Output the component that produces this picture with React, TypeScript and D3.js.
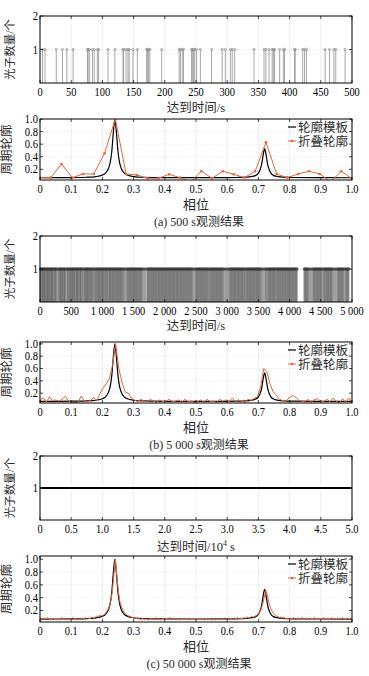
import * as d3 from "d3";

// photon arrival times (s), 500 s observation
const arrivals500 = [
  4, 8, 26, 36, 43, 53, 76, 77, 79, 84, 87, 92, 94, 109, 120, 133, 134, 138, 141, 143,
  149, 156, 171, 172, 174, 176, 195, 223, 225, 228, 230, 243, 244, 246, 248, 251, 257,
  275, 292, 297, 305, 308, 312, 343, 359, 362, 367, 372, 374, 376, 384, 390, 392, 408,
  409, 421, 424, 427, 457, 464, 471, 474, 489,
];

// photon arrival times (s), 5 000 s observation
const arrivals5000 = [
  5, 18, 31, 40, 52, 66, 71, 85, 97, 110, 118, 131, 140, 156, 163, 177, 189, 195, 208, 221,
  236, 244, 258, 272, 290, 305, 318, 327, 339, 352, 361, 374, 388, 396, 409, 430, 441, 455,
  468, 480, 491, 503, 517, 526, 538, 552, 561, 575, 589, 598, 610, 622, 637, 648, 657, 671,
  684, 700, 716, 727, 739, 752, 760, 774, 786, 797, 811, 823, 835, 848, 862, 878, 890, 905,
  917, 930, 941, 953, 966, 978, 990, 1003, 1015, 1027, 1040, 1052, 1066, 1078, 1091, 1105,
  1117, 1128, 1141, 1153, 1165, 1178, 1190, 1204, 1216, 1228, 1241, 1254, 1266, 1279, 1291,
  1303, 1318, 1330, 1345, 1362, 1380, 1398, 1409, 1421, 1434, 1447, 1459, 1471, 1484, 1496,
  1509, 1521, 1533, 1546, 1558, 1571, 1583, 1596, 1609, 1621, 1634, 1650, 1670, 1690, 1715,
  1727, 1740, 1752, 1765, 1777, 1790, 1802, 1815, 1827, 1839, 1852, 1864, 1877, 1889, 1902,
  1914, 1927, 1939, 1952, 1964, 1977, 1989, 2002, 2014, 2027, 2039, 2052, 2064, 2077, 2089,
  2102, 2114, 2127, 2139, 2152, 2164, 2177, 2190, 2202, 2215, 2227, 2240, 2252, 2265, 2277,
  2290, 2302, 2315, 2328, 2340, 2353, 2365, 2378, 2390, 2403, 2415, 2428, 2442, 2460, 2480,
  2498, 2511, 2523, 2536, 2548, 2561, 2573, 2586, 2598, 2611, 2623, 2636, 2648, 2661, 2673,
  2686, 2700, 2715, 2730, 2742, 2755, 2767, 2780, 2792, 2805, 2817, 2830, 2842, 2855, 2867,
  2880, 2892, 2905, 2917, 2930, 2945, 2965, 2985, 3005, 3025, 3040, 3055, 3068, 3080, 3093,
  3105, 3118, 3130, 3143, 3155, 3168, 3180, 3193, 3205, 3218, 3230, 3243, 3255, 3268, 3280,
  3295, 3310, 3322, 3335, 3347, 3360, 3372, 3385, 3397, 3410, 3422, 3435, 3447, 3460, 3472,
  3485, 3497, 3510, 3522, 3535, 3550, 3570, 3590, 3610, 3625, 3640, 3655, 3668, 3680, 3693,
  3705, 3718, 3730, 3743, 3755, 3768, 3780, 3795, 3808, 3820, 3833, 3845, 3858, 3870, 3883,
  3895, 3908, 3920, 3933, 3945, 3958, 3970, 3983, 3995, 4008, 4020, 4033, 4045, 4058, 4070,
  4083, 4095, 4108, 4120, 4232, 4245, 4257, 4270, 4282, 4295, 4310, 4330, 4350, 4370, 4385,
  4397, 4410, 4422, 4435, 4447, 4460, 4472, 4485, 4497, 4510, 4525, 4545, 4557, 4570, 4582,
  4595, 4607, 4620, 4632, 4645, 4657, 4670, 4682, 4700, 4720, 4740, 4760, 4775, 4787, 4800,
  4812, 4825, 4837, 4850, 4862, 4880, 4900, 4912, 4925, 4937, 4950,
];

// 50 000 s observation: first and last arrival (10^4 s), too dense to resolve
const span50000 = [0, 5.0];

// pulse profile template
const templatePhase = [
  0, 0.06, 0.1, 0.15, 0.18, 0.2, 0.21, 0.22, 0.225, 0.23, 0.235, 0.24, 0.245, 0.25, 0.255,
  0.26, 0.27, 0.28, 0.3, 0.33, 0.4, 0.5, 0.6, 0.63, 0.66, 0.68, 0.69, 0.7, 0.705, 0.71,
  0.715, 0.72, 0.725, 0.73, 0.735, 0.74, 0.75, 0.76, 0.78, 0.81, 0.9, 1.0,
];
const templateValue = [
  0.066, 0.067, 0.069, 0.074, 0.085, 0.11, 0.14, 0.22, 0.31, 0.48, 0.78, 1.0, 0.78, 0.48,
  0.31, 0.22, 0.14, 0.11, 0.085, 0.074, 0.068, 0.067, 0.068, 0.07, 0.075, 0.087, 0.1, 0.14,
  0.19, 0.27, 0.42, 0.53, 0.42, 0.27, 0.19, 0.14, 0.1, 0.087, 0.075, 0.07, 0.067, 0.066,
];

// folded profiles (evenly spaced bins over phase 0..1)
const folded500 = [
  0.067, 0.067, 0.285, 0.067, 0.126, 0.126, 0.455, 1.0, 0.126, 0.11, 0.057, 0.057, 0.12,
  0.067, 0.0, 0.17, 0.057, 0.17, 0.12, 0.067, 0.17, 0.63, 0.126, 0.067, 0.126, 0.17, 0.126,
  0.0, 0.17, 0.05,
];
const folded5000 = [
  0.07, 0.13, 0.05, 0.14, 0.08, 0.09, 0.07, 0.1, 0.15, 0.08,
  0.04, 0.05, 0.04, 0.15, 0.08, 0.06, 0.08, 0.13, 0.07, 0.19,
  0.28, 0.35, 0.43, 0.65, 1.0, 0.6, 0.38, 0.22, 0.2, 0.12,
  0.09, 0.06, 0.1, 0.07, 0.06, 0.1, 0.07, 0.05, 0.09, 0.06,
  0.07, 0.1, 0.06, 0.07, 0.09, 0.05, 0.1, 0.06, 0.07, 0.05,
  0.06, 0.09, 0.05, 0.1, 0.06, 0.07, 0.05, 0.1, 0.07, 0.09,
  0.06, 0.12, 0.06, 0.09, 0.07, 0.05, 0.1, 0.08, 0.12, 0.14,
  0.3, 0.6, 0.55, 0.35, 0.22, 0.17, 0.1, 0.08, 0.07, 0.12,
  0.16, 0.14, 0.09, 0.07, 0.06, 0.1, 0.05, 0.09, 0.11, 0.07,
  0.06, 0.1, 0.06, 0.12, 0.07, 0.04, 0.11, 0.05, 0.12, 0.06,
];
const folded50000 = [
  0.07, 0.05, 0.08, 0.06, 0.07, 0.09, 0.06, 0.05, 0.08, 0.07,
  0.06, 0.08, 0.05, 0.07, 0.09, 0.06, 0.07, 0.05, 0.08, 0.06,
  0.07, 0.09, 0.06, 0.08, 0.05, 0.07, 0.06, 0.08, 0.07, 0.09,
  0.06, 0.08, 0.07, 0.1, 0.08, 0.09, 0.11, 0.1, 0.13, 0.12,
  0.12, 0.14, 0.16, 0.2, 0.25, 0.33, 0.47, 0.72, 1.0, 0.74,
  0.49, 0.33, 0.26, 0.2, 0.16, 0.14, 0.12, 0.11, 0.1, 0.09,
  0.09, 0.08, 0.07, 0.08, 0.06, 0.07, 0.08, 0.06, 0.07, 0.05,
  0.07, 0.08, 0.06, 0.07, 0.09, 0.06, 0.07, 0.05, 0.08, 0.07,
  0.06, 0.08, 0.07, 0.09, 0.06, 0.08, 0.07, 0.06, 0.08, 0.05,
  0.07, 0.06, 0.08, 0.06, 0.07, 0.05, 0.06, 0.08, 0.07, 0.06,
  0.05, 0.07, 0.06, 0.08, 0.06, 0.05, 0.07, 0.06, 0.07, 0.05,
  0.06, 0.07, 0.05, 0.08, 0.06, 0.07, 0.06, 0.08, 0.05, 0.07,
  0.06, 0.08, 0.07, 0.06, 0.08, 0.07, 0.09, 0.06, 0.08, 0.07,
  0.09, 0.08, 0.1, 0.08, 0.09, 0.11, 0.09, 0.11, 0.12, 0.14,
  0.17, 0.22, 0.3, 0.4, 0.52, 0.44, 0.32, 0.24, 0.19, 0.15,
  0.13, 0.11, 0.1, 0.09, 0.1, 0.08, 0.09, 0.07, 0.08, 0.06,
  0.08, 0.07, 0.09, 0.06, 0.07, 0.08, 0.06, 0.09, 0.07, 0.06,
  0.08, 0.07, 0.05, 0.08, 0.06, 0.09, 0.07, 0.06, 0.08, 0.07,
  0.06, 0.09, 0.07, 0.08, 0.06, 0.07, 0.09, 0.06, 0.08, 0.07,
  0.06, 0.08, 0.07, 0.09, 0.06, 0.07, 0.08, 0.06, 0.07, 0.06,
];

const profileTicks = [0.2, 0.4, 0.6, 0.8, 1.0];
const photonTicks = [1, 2];

const FONT = "'Liberation Serif', 'Noto Sans CJK SC', serif";
const ORANGE = "#e8653a";
const GRID = "#e2e2e2";
const TEXT = "#2a2a2a";
const X0 = 40;
const X1 = 352;

const fmtThousands = (d: number) =>
  d >= 1000 ? `${Math.floor(d / 1000)} ${String(d % 1000).padStart(3, "0")}` : String(d);
const fmtOne = (d: number) => (d === 0 ? "0" : d3.format(".1f")(d));

function NumLabel({ x, y, text, anchor = "middle", size = 13, sx = 0.8 }: { x: number; y: number; text: string; anchor?: string; size?: number; sx?: number }) {
  return (
    <text transform={`translate(${x},${y}) scale(${sx},1)`} textAnchor={anchor as any} fontSize={size}>
      {text}
    </text>
  );
}

type FrameProps = {
  top: number;
  bottom: number;
  x: d3.ScaleLinear<number, number>;
  y: d3.ScaleLinear<number, number>;
  xTicks: number[];
  yTicks: number[];
  xFmt: (d: number) => string;
  yFmt: (d: number) => string;
  yLabel: string;
  yLabelX: number;
  yLabelSize: number;
};

function Grid({ top, bottom, x, y, xTicks, yTicks }: FrameProps) {
  return (
    <g>
      {xTicks.map((t) => (
        <line key={"gx" + t} x1={x(t)} x2={x(t)} y1={top} y2={bottom} stroke={GRID} strokeWidth={0.6} />
      ))}
      {yTicks.map((t) => (
        <line key={"gy" + t} x1={X0} x2={X1} y1={y(t)} y2={y(t)} stroke={GRID} strokeWidth={0.6} strokeDasharray="1.5,1.5" />
      ))}
    </g>
  );
}

function Axes(p: FrameProps) {
  const { top, bottom, x, y, xTicks, yTicks, xFmt, yFmt } = p;
  return (
    <g>
      <rect x={X0} y={top} width={X1 - X0} height={bottom - top} fill="none" stroke="#000" strokeWidth={1} />
      {xTicks.map((t) => (
        <g key={"tx" + t}>
          <line x1={x(t)} x2={x(t)} y1={bottom} y2={bottom - 3} stroke="#000" strokeWidth={0.7} />
          <line x1={x(t)} x2={x(t)} y1={top} y2={top + 3} stroke="#000" strokeWidth={0.7} />
          <NumLabel x={x(t)} y={bottom + 13} text={xFmt(t)} />
        </g>
      ))}
      {yTicks.map((t) => (
        <g key={"ty" + t}>
          <line x1={X0} x2={X0 + 3} y1={y(t)} y2={y(t)} stroke="#000" strokeWidth={0.7} />
          <line x1={X1} x2={X1 - 3} y1={y(t)} y2={y(t)} stroke="#000" strokeWidth={0.7} />
          <NumLabel x={X0 - 2} y={y(t) + 4} text={yFmt(t)} anchor="end" size={11.5} sx={0.92} />
        </g>
      ))}
      <text
        transform={`translate(${p.yLabelX},${(top + bottom) / 2}) rotate(-90)`}
        textAnchor="middle"
        fontSize={p.yLabelSize}
        fill={TEXT}
      >
        {p.yLabel}
      </text>
    </g>
  );
}

type PhotonProps = {
  top: number;
  bottom: number;
  domain: number[];
  times?: number[];
  span?: number[];
  xFmt: (d: number) => string;
  stem: string;
  stemOpacity: number;
  stemWidth: number;
  title: React.ReactNode;
  titleY: number;
};

function PhotonPanel({ top, bottom, domain, times, span, xFmt, stem, stemOpacity, stemWidth, title, titleY }: PhotonProps) {
  const x = d3.scaleLinear().domain(domain).range([X0, X1]);
  const y = d3.scaleLinear().domain([0, 2]).range([bottom, top]);
  const frame: FrameProps = {
    top, bottom, x, y,
    xTicks: x.ticks(10), yTicks: photonTicks,
    xFmt, yFmt: (d) => String(d),
    yLabel: "光子数量/个", yLabelX: 14, yLabelSize: 11.5,
  };
  return (
    <g>
      <Grid {...frame} />
      {times && (
        <g>
          {times.map((t, i) => (
            <line key={i} x1={x(t)} x2={x(t)} y1={y(0)} y2={y(1)} stroke={stem} strokeOpacity={stemOpacity} strokeWidth={stemWidth} />
          ))}
          {times.map((t, i) => (
            <circle key={"m" + i} cx={x(t)} cy={y(1)} r={1.1} fill="none" stroke={stem} strokeWidth={0.7} />
          ))}
        </g>
      )}
      {span && (
        <line x1={x(span[0])} x2={x(span[1])} y1={y(1)} y2={y(1)} stroke="#000" strokeWidth={2.2} />
      )}
      <Axes {...frame} />
      <text x={(X0 + X1) / 2} y={titleY} textAnchor="middle" fontSize={12.5} fill={TEXT}>
        {title}
      </text>
    </g>
  );
}

type ProfileProps = {
  top: number;
  bottom: number;
  yDomain: number[];
  folded: number[];
  markers: boolean;
  caption: string;
  id: string;
};

function ProfilePanel({ top, bottom, yDomain, folded, markers, caption, id }: ProfileProps) {
  const x = d3.scaleLinear().domain([0, 1]).range([X0, X1]);
  const y = d3.scaleLinear().domain(yDomain).range([bottom, top]);
  const frame: FrameProps = {
    top, bottom, x, y,
    xTicks: x.ticks(10), yTicks: profileTicks,
    xFmt: fmtOne, yFmt: fmtOne,
    yLabel: "周期轮廓", yLabelX: 11, yLabelSize: 12.5,
  };
  const n = folded.length;
  const templateLine = d3
    .line<number>()
    .x((_, i) => x(templatePhase[i]))
    .y((d) => y(d))
    .curve(d3.curveMonotoneX);
  const foldedLine = d3
    .line<number>()
    .x((_, i) => x(i / (n - 1)))
    .y((d) => y(d));
  const ly1 = top + 8;
  const ly2 = top + 22;
  return (
    <g>
      <defs>
        <clipPath id={id}>
          <rect x={X0} y={top} width={X1 - X0} height={bottom - top} />
        </clipPath>
      </defs>
      <Grid {...frame} />
      <g clipPath={`url(#${id})`}>
        <path d={templateLine(templateValue) ?? ""} fill="none" stroke="#000" strokeWidth={1.2} />
        <path d={foldedLine(folded) ?? ""} fill="none" stroke={ORANGE} strokeWidth={1} />
        {markers &&
          folded.map((d, i) => <circle key={i} cx={x(i / (n - 1))} cy={y(d)} r={1.3} fill={ORANGE} />)}
      </g>
      <Axes {...frame} />
      <line x1={288} x2={296} y1={ly1} y2={ly1} stroke="#000" strokeWidth={1.2} />
      <text x={298} y={ly1 + 4.5} fontSize={12.5} fill={TEXT}>轮廓模板</text>
      <line x1={288} x2={296} y1={ly2} y2={ly2} stroke={ORANGE} strokeWidth={1} />
      <circle cx={292} cy={ly2} r={1.3} fill={ORANGE} />
      <text x={298} y={ly2 + 4.5} fontSize={12.5} fill={TEXT}>折叠轮廓</text>
      <text x={(X0 + X1) / 2} y={bottom + 29} textAnchor="middle" fontSize={13} fill={TEXT}>相位</text>
      <text x={(X0 + X1) / 2 + 3} y={bottom + 46} textAnchor="middle" fontSize={12} fill={TEXT}>{caption}</text>
    </g>
  );
}

export default function App() {
  return (
    <svg
      width={369}
      height={676}
      style={{ position: "absolute", left: 0, top: 0, background: "#fff" }}
      fontFamily={FONT}
    >
      <rect width={369} height={676} fill="#fff" />
      <PhotonPanel
        top={16} bottom={83} domain={[0, 500]} times={arrivals500}
        xFmt={(d) => String(d)} stem="#8a8a8a" stemOpacity={0.75} stemWidth={1}
        title="达到时间/s" titleY={112}
      />
      <ProfilePanel top={119} bottom={180} yDomain={[0.03, 1.0]} folded={folded500} markers caption="(a) 500 s观测结果" id="c1" />
      <PhotonPanel
        top={236} bottom={302} domain={[0, 5000]} times={arrivals5000}
        xFmt={fmtThousands} stem="#333" stemOpacity={0.45} stemWidth={1.4}
        title="达到时间/s" titleY={330}
      />
      <ProfilePanel top={342} bottom={403} yDomain={[0.04, 1.03]} folded={folded5000} markers={false} caption="(b) 5 000 s观测结果" id="c2" />
      <PhotonPanel
        top={456} bottom={520} domain={[0, 5]} span={span50000}
        xFmt={fmtOne} stem="#000" stemOpacity={1} stemWidth={1}
        title={<>达到时间/10<tspan dy={-5} fontSize={8}>4</tspan><tspan dy={5}> s</tspan></>}
        titleY={551}
      />
      <ProfilePanel top={556} bottom={622} yDomain={[0.02, 1.05]} folded={folded50000} markers={false} caption="(c) 50 000 s观测结果" id="c3" />
    </svg>
  );
}
